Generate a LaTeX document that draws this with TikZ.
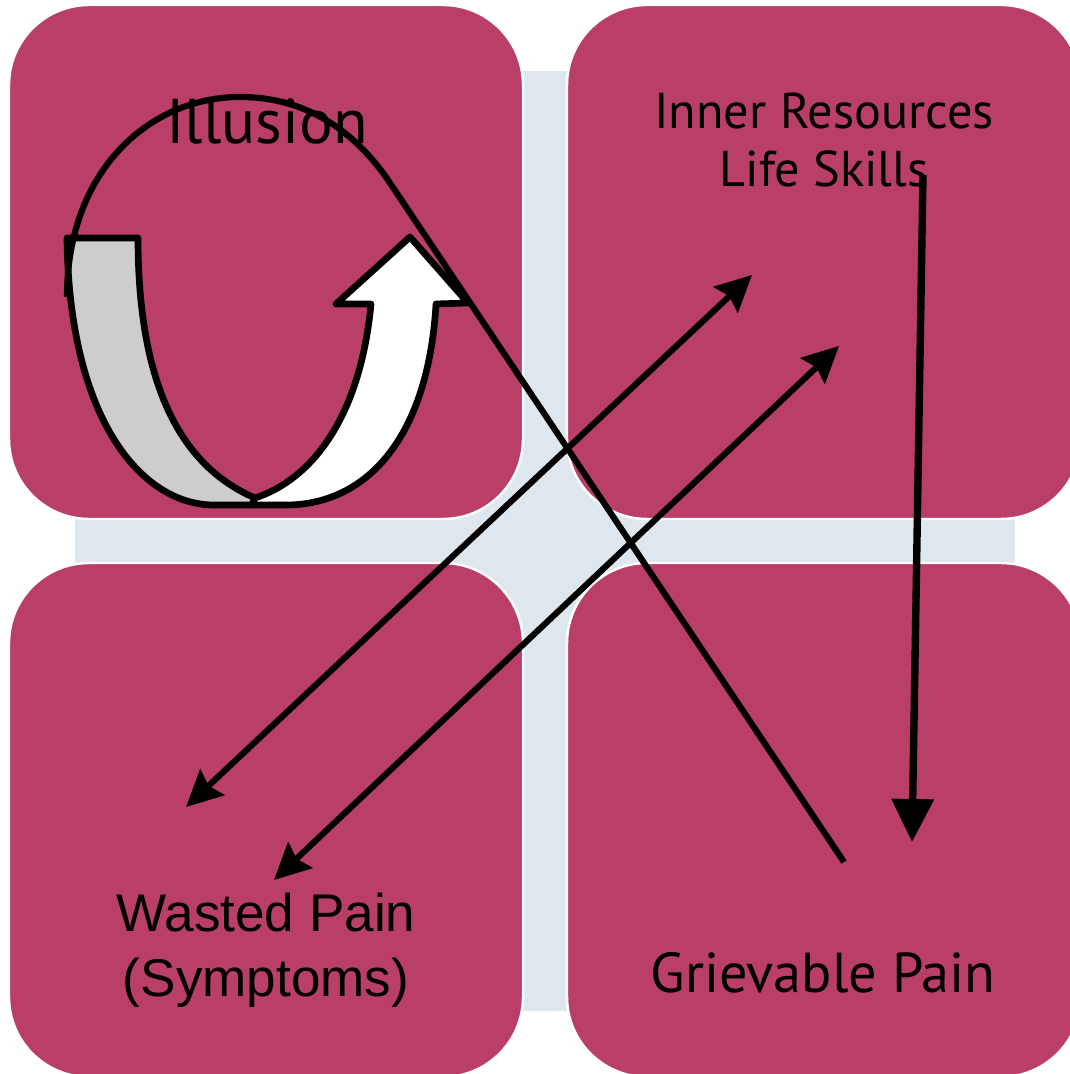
\documentclass[tikz,border=0pt]{standalone}
\usepackage{fontspec}
\newfontfamily\tilefont{PT Sans}
\newfontfamily\arialfont{Liberation Sans}
\usetikzlibrary{arrows.meta}
\definecolor{tile}{RGB}{185,62,104}
\definecolor{backdrop}{RGB}{223,231,238}
\definecolor{band}{RGB}{205,205,205}

\begin{document}
\begin{tikzpicture}[x=0.01cm, y=-0.01cm,
    tile/.style={fill=tile, draw=white, line width=0.7pt, rounded corners=0.8cm},
    stroke/.style={line width=1.75pt, line join=round},
    uturn/.style={line width=1.9pt, line join=round},
    twoway/.style={stroke, {Stealth[length=3.6mm, width=3.5mm, inset=0.5mm]}-{Stealth[length=3.6mm, width=3.5mm, inset=0.5mm]}},
    oneway/.style={line width=2.1pt, -{Triangle[length=4.3mm, width=4.1mm]}},
    label/.style={inner sep=0pt, anchor=north, align=center}]
  \useasboundingbox (0,0) rectangle (1069,1074);
  % backdrop and the four tiles
  \fill[backdrop] (75,71) rectangle (1015,1011);
  \draw[tile] (9,5) rectangle (523,519);
  \draw[tile] (567,5) rectangle (1081,519);
  \draw[tile] (9,563) rectangle (523,1077);
  \draw[tile] (567,563) rectangle (1081,1077);

  % texts
  \node[label, font={\tilefont\fontsize{18}{22}\selectfont}] (illusion) at (267,98) {Illusion};
  \node[label, font={\tilefont\fontsize{14.3}{16.5}\selectfont}] (inner) at (824,92) {Inner Resources\\Life Skills};
  \node[label, font={\arialfont\fontsize{15.1}{18.5}\selectfont}] (wasted) at (266,892) {Wasted Pain\\(Symptoms)};
  \node[label, font={\tilefont\fontsize{16}{19}\selectfont}] (grief) at (823,952) {Grievable Pain};

  % u-turn arrow
  \draw[uturn, fill=band] (67,238) -- (138,238) .. controls (138,400) and (190,470) .. (255,498)
    -- (252,505) -- (214,505) .. controls (142,505) and (69,420) .. cycle;
  \draw[uturn, fill=white] (255,498) .. controls (310,480) and (360,420) .. (371,304) -- (336,304)
    -- (410,237) -- (468,303) -- (436,304) .. controls (428,440) and (365,505) .. (286,505) -- (252,505) -- cycle;

  % connectors
  \coordinate (loopstart) at (67,297);
  \coordinate (loopend) at (844,862);
  \draw[stroke] (loopstart) .. controls (67,170) and (150,97) .. (240,97)
    .. controls (300,97) and (350,125) .. (388,180) -- (loopend);
  \coordinate (wasteA) at (186,807); \coordinate (innerA) at (752,275);
  \coordinate (wasteB) at (274,880); \coordinate (innerB) at (839,346);
  \draw[twoway] (wasteA) -- (innerA);
  \draw[twoway] (wasteB) -- (innerB);
  \coordinate (skills) at (923,175); \coordinate (grieftip) at (912,842);
  \draw[oneway] (skills) -- (grieftip);
\end{tikzpicture}
\end{document}
